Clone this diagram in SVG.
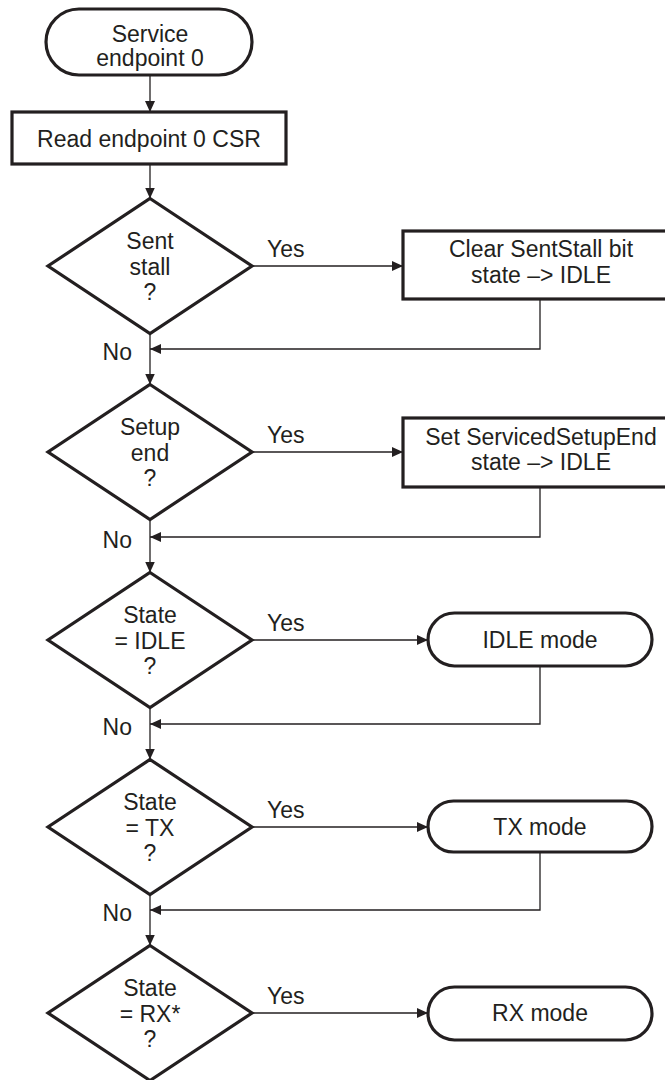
<svg xmlns="http://www.w3.org/2000/svg" width="665" height="1080" viewBox="0 0 665 1080">
<style>
.shape{fill:#fff;stroke:#231f20;stroke-width:3.2;stroke-linejoin:miter}
.conn{fill:none;stroke:#231f20;stroke-width:1.3}
text{font-family:"Liberation Sans",Arial,sans-serif;font-size:23px;fill:#231f20}
.c{text-anchor:middle}
.e{text-anchor:end}
</style>
<defs>
<marker id="ah" markerWidth="11" markerHeight="10" refX="11" refY="5" orient="auto" markerUnits="userSpaceOnUse">
<path d="M0,0 L11,5 L0,10 Z" fill="#231f20"/>
</marker>
</defs>
<rect width="665" height="1080" fill="#fff"/>
<g id="connectors">
<line class="conn" x1="150" y1="75" x2="150" y2="112" marker-end="url(#ah)"/>
<line class="conn" x1="150" y1="164" x2="150" y2="198.5" marker-end="url(#ah)"/>
<line class="conn" x1="252" y1="266" x2="403" y2="266" marker-end="url(#ah)"/>
<polyline class="conn" points="540,299 540,349 150,349" marker-end="url(#ah)"/>
<line class="conn" x1="150" y1="333.5" x2="150" y2="384.5" marker-end="url(#ah)"/>
<line class="conn" x1="252" y1="452" x2="403" y2="452" marker-end="url(#ah)"/>
<polyline class="conn" points="540,487 540,537 150,537" marker-end="url(#ah)"/>
<line class="conn" x1="150" y1="519.5" x2="150" y2="572.5" marker-end="url(#ah)"/>
<line class="conn" x1="252" y1="640" x2="428" y2="640" marker-end="url(#ah)"/>
<polyline class="conn" points="540,666 540,724 150,724" marker-end="url(#ah)"/>
<line class="conn" x1="150" y1="707.5" x2="150" y2="759.5" marker-end="url(#ah)"/>
<line class="conn" x1="252" y1="827" x2="428" y2="827" marker-end="url(#ah)"/>
<polyline class="conn" points="540,852 540,910 150,910" marker-end="url(#ah)"/>
<line class="conn" x1="150" y1="894.5" x2="150" y2="945.5" marker-end="url(#ah)"/>
<line class="conn" x1="252" y1="1013" x2="428" y2="1013" marker-end="url(#ah)"/>
</g>
<g id="labels">
<text x="267" y="257">Yes</text>
<text class="e" x="132" y="360">No</text>
<text x="267" y="443">Yes</text>
<text class="e" x="132" y="548">No</text>
<text x="267" y="631">Yes</text>
<text class="e" x="132" y="735">No</text>
<text x="267" y="818">Yes</text>
<text class="e" x="132" y="921">No</text>
<text x="267" y="1004">Yes</text>
</g>
<g id="start">
<rect class="shape" x="46" y="9" width="206" height="66" rx="33" ry="33"/>
<text class="c" x="150" y="42">Service</text>
<text class="c" x="150" y="66">endpoint 0</text>
</g>
<g id="read">
<rect class="shape" x="12" y="112" width="274" height="52"/>
<text class="c" x="149" y="147">Read endpoint 0 CSR</text>
</g>
<g id="d1">
<polygon class="shape" points="150,198.5 252,266 150,333.5 48,266"/>
<text class="c" x="150" y="249">Sent</text>
<text class="c" x="150" y="275">stall</text>
<text class="c" x="150" y="300">?</text>
</g>
<g id="b1">
<rect class="shape" x="403" y="231" width="278" height="68"/>
<text class="c" x="541" y="257">Clear SentStall bit</text>
<text class="c" x="541" y="283">state –&gt; IDLE</text>
</g>
<g id="d2">
<polygon class="shape" points="150,384.5 252,452 150,519.5 48,452"/>
<text class="c" x="150" y="435">Setup</text>
<text class="c" x="150" y="461">end</text>
<text class="c" x="150" y="486">?</text>
</g>
<g id="b2">
<rect class="shape" x="403" y="418" width="278" height="69"/>
<text class="c" x="541" y="445">Set ServicedSetupEnd</text>
<text class="c" x="541" y="470">state –&gt; IDLE</text>
</g>
<g id="d3">
<polygon class="shape" points="150,572.5 252,640 150,707.5 48,640"/>
<text class="c" x="150" y="623">State</text>
<text class="c" x="150" y="649">= IDLE</text>
<text class="c" x="150" y="674">?</text>
</g>
<g id="idle">
<rect class="shape" x="428" y="613" width="224" height="53" rx="26.5" ry="26.5"/>
<text class="c" x="540" y="648">IDLE mode</text>
</g>
<g id="d4">
<polygon class="shape" points="150,759.5 252,827 150,894.5 48,827"/>
<text class="c" x="150" y="810">State</text>
<text class="c" x="150" y="836">= TX</text>
<text class="c" x="150" y="861">?</text>
</g>
<g id="tx">
<rect class="shape" x="428" y="801" width="224" height="51" rx="25.5" ry="25.5"/>
<text class="c" x="540" y="835">TX mode</text>
</g>
<g id="d5">
<polygon class="shape" points="150,945.5 252,1013 150,1080.5 48,1013"/>
<text class="c" x="150" y="996">State</text>
<text class="c" x="150" y="1022">= RX*</text>
<text class="c" x="150" y="1047">?</text>
</g>
<g id="rx">
<rect class="shape" x="428" y="987" width="224" height="53" rx="26.5" ry="26.5"/>
<text class="c" x="540" y="1021">RX mode</text>
</g>
</svg>
